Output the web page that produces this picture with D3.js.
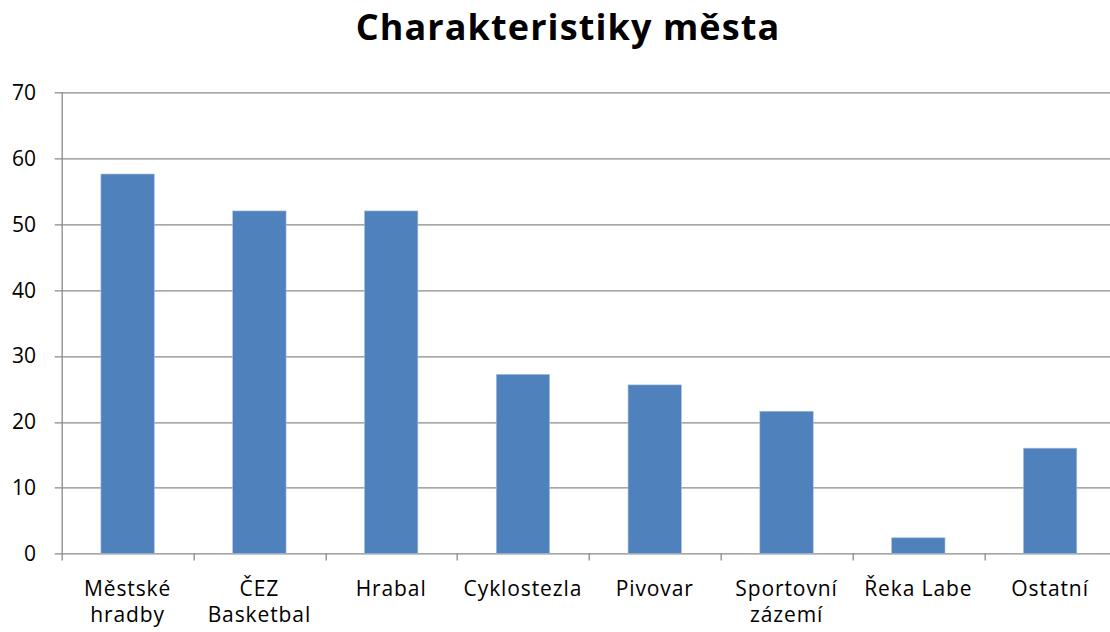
<!DOCTYPE html>
<html>
<head>
<meta charset="utf-8">
<script src="https://cdnjs.cloudflare.com/ajax/libs/d3/7.8.5/d3.min.js"></script>
<style>
  body { margin: 0; background: #fff; }
  text { font-family: "Open Sans", Lato, sans-serif; fill: #000; }
</style>
</head>
<body>
<div id="chart"></div>
<script>
// chart data
var categories = [["Městské", "hradby"], ["ČEZ", "Basketbal"], ["Hrabal"], ["Cyklostezla"],
  ["Pivovar"], ["Sportovní", "zázemí"], ["Řeka Labe"], ["Ostatní"]];
var values = [57.6, 52.0, 52.0, 27.2, 25.6, 21.6, 2.4, 16.0];
var yTicks = [0, 10, 20, 30, 40, 50, 60, 70];
var title = "Charakteristiky města";

var W = 1110, H = 632;
var margin = {top: 92.3, right: -6, bottom: 632 - 553.6, left: 61.7},
  width = W - margin.left - margin.right,
  height = H - margin.top - margin.bottom;

var svg = d3.select("#chart")
  .append("svg")
  .attr("width", W)
  .attr("height", H);

svg.append("text")
  .attr("x", 568)
  .attr("y", 40)
  .attr("text-anchor", "middle")
  .style("font-size", "36px")
  .style("font-weight", "bold")
  .style("letter-spacing", "1.1px")
  .text(title);

var g = svg.append("g")
  .attr("transform", "translate(" + margin.left + "," + margin.top + ")");

var xScale = d3.scaleBand()
  .domain(d3.range(categories.length))
  .range([0, width])
  .paddingInner(0)
  .paddingOuter(0);

var yScale = d3.scaleLinear().domain([0, 70]).range([height, 0]);

// gridlines
g.selectAll("line.grid")
  .data(yTicks)
  .enter().append("line")
  .attr("class", "grid")
  .attr("x1", -7)
  .attr("x2", width)
  .attr("y1", function(d) { return Math.round(yScale(d)) + 0.5; })
  .attr("y2", function(d) { return Math.round(yScale(d)) + 0.5; })
  .attr("stroke", "#8a8a8a")
  .attr("stroke-width", 1.3);

// y axis line
g.append("line")
  .attr("x1", 0.5).attr("x2", 0.5)
  .attr("y1", 0).attr("y2", height)
  .attr("stroke", "#8a8a8a")
  .attr("stroke-width", 1.3);

// y labels
g.selectAll("text.ylab")
  .data(yTicks)
  .enter().append("text")
  .attr("class", "ylab")
  .attr("x", 36 - margin.left)
  .attr("y", function(d) { return yScale(d); })
  .attr("dy", "0.36em")
  .attr("text-anchor", "end")
  .style("font-size", "21px")
  .text(function(d) { return d; });

// bars
var barW = xScale.bandwidth() * 0.405;
g.selectAll("rect.bar")
  .data(values)
  .enter().append("rect")
  .attr("class", "bar")
  .attr("x", function(d, i) { return xScale(i) + (xScale.bandwidth() - barW) / 2; })
  .attr("y", function(d) { return yScale(d); })
  .attr("width", barW)
  .attr("height", function(d) { return height - yScale(d); })
  .attr("fill", "#4f81bd")
  .attr("stroke", "#a9c1e0")
  .attr("stroke-width", 0.6);

// category ticks below axis
g.selectAll("line.xtick")
  .data(d3.range(categories.length + 1))
  .enter().append("line")
  .attr("class", "xtick")
  .attr("x1", function(i) { return Math.round(i * xScale.bandwidth()) + 0.5; })
  .attr("x2", function(i) { return Math.round(i * xScale.bandwidth()) + 0.5; })
  .attr("y1", height)
  .attr("y2", height + 7)
  .attr("stroke", "#8a8a8a")
  .attr("stroke-width", 1.3);

// category labels
var labels = g.selectAll("text.xlab")
  .data(categories)
  .enter().append("text")
  .attr("class", "xlab")
  .attr("text-anchor", "middle")
  .style("font-size", "21px")
  .style("letter-spacing", "0.9px")
  .attr("transform", function(d, i) {
    return "translate(" + (xScale(i) + xScale.bandwidth() / 2) + "," + (height + 42) + ")";
  });

labels.selectAll("tspan")
  .data(function(d) { return d; })
  .enter().append("tspan")
  .attr("x", 0)
  .attr("y", function(d, i) { return i * 26; })
  .text(function(d) { return d; });
</script>
</body>
</html>
